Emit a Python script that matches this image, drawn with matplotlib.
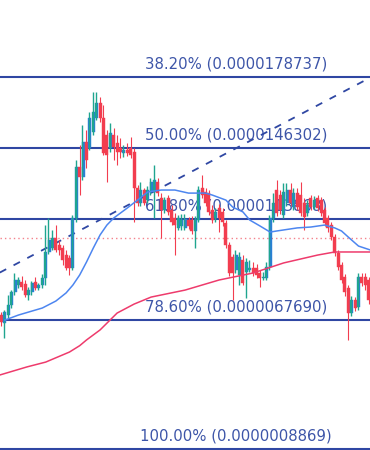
import matplotlib
matplotlib.use("Agg")
import matplotlib.pyplot as plt
import matplotlib.transforms as mtransforms

UNIT = 1e-6  # candle / indicator values below are in millionths

opens = [7.00, 6.64, 7.00, 7.46, 8.05, 8.37, 8.51, 8.42, 7.91, 8.05,
         8.51, 8.23, 8.37, 8.69, 9.88, 10.06, 10.52, 10.20, 10.06, 9.74,
         9.61, 9.15, 11.43, 13.76, 13.31, 14.90, 14.63, 15.36, 16.00, 16.69,
         16.00, 15.22, 14.63, 15.22, 14.86, 14.63, 14.40, 14.54, 14.63, 14.45,
         12.80, 12.12, 12.71, 12.25, 12.62, 12.62, 13.08, 12.35, 11.80, 12.35,
         11.80, 11.43, 10.98, 11.07, 10.98, 11.34, 11.34, 10.84, 11.34, 12.80,
         12.62, 12.57, 11.80, 11.43, 11.89, 11.71, 11.20, 10.20, 9.65, 9.06,
         8.83, 9.51, 8.97, 9.06, 9.15, 9.15, 8.92, 8.69, 8.69, 9.19,
         11.43, 12.71, 12.48, 11.57, 12.12, 12.71, 11.93, 12.57, 12.48, 12.12,
         11.66, 12.35, 11.93, 12.35, 12.25, 11.80, 11.43, 11.11, 10.56, 9.83,
         9.29, 8.74, 8.23, 7.09, 7.69, 7.37, 8.74, 8.74, 8.60]
closes = [6.68, 7.14, 7.46, 8.05, 8.60, 8.60, 8.28, 7.91, 8.14, 8.46,
          8.23, 8.37, 8.69, 9.88, 10.43, 10.52, 9.97, 9.97, 9.51, 9.15,
          9.15, 11.43, 13.76, 13.31, 14.90, 14.08, 16.00, 16.27, 16.69, 16.00,
          14.40, 14.31, 15.32, 14.68, 14.45, 14.45, 14.54, 14.40, 14.31, 12.80,
          12.12, 12.71, 12.12, 12.71, 13.08, 13.17, 12.57, 11.80, 12.25, 11.71,
          11.25, 11.11, 11.43, 11.34, 11.39, 11.07, 10.84, 11.34, 12.71, 12.48,
          12.12, 11.71, 11.34, 11.71, 11.43, 11.25, 10.20, 8.92, 8.92, 9.74,
          9.65, 8.46, 9.42, 9.15, 8.92, 8.83, 8.69, 8.74, 9.19, 11.43,
          12.12, 11.66, 11.80, 12.62, 12.71, 12.12, 12.57, 11.93, 11.66, 11.48,
          12.03, 11.93, 12.25, 11.89, 11.66, 11.20, 10.98, 10.56, 9.83, 9.19,
          8.60, 8.05, 7.09, 7.69, 7.32, 8.74, 8.46, 8.37, 7.69]
highs = [7.14, 7.23, 7.91, 8.14, 8.92, 8.74, 8.78, 8.60, 8.28, 8.55,
         8.74, 8.46, 8.87, 11.11, 11.43, 10.88, 11.11, 10.43, 10.20, 9.97,
         9.74, 11.57, 14.08, 14.77, 15.68, 15.45, 16.27, 17.19, 17.19, 16.96,
         16.59, 15.45, 15.77, 15.54, 15.22, 15.09, 14.77, 14.86, 15.13, 14.63,
         12.94, 13.08, 12.80, 12.89, 13.26, 13.85, 13.26, 12.57, 12.39, 12.48,
         12.03, 11.66, 11.57, 11.62, 11.62, 11.48, 11.52, 11.52, 12.89, 13.40,
         12.80, 12.71, 12.03, 11.89, 12.07, 11.89, 11.34, 10.34, 9.79, 9.97,
         9.88, 9.74, 9.61, 9.51, 9.42, 9.33, 9.06, 8.97, 9.42, 11.57,
         12.57, 13.17, 12.71, 13.03, 13.03, 13.03, 12.80, 12.80, 13.08, 12.35,
         12.25, 12.48, 12.44, 12.48, 12.39, 11.93, 11.57, 11.25, 10.70, 9.97,
         9.42, 8.87, 8.37, 7.87, 7.82, 8.92, 8.92, 8.92, 8.74]
lows = [6.50, 5.95, 6.86, 7.32, 7.91, 8.23, 8.14, 7.82, 7.69, 7.91,
        8.14, 8.14, 8.23, 8.37, 9.79, 9.97, 9.88, 9.74, 9.29, 9.06,
        8.83, 9.06, 11.25, 12.48, 13.17, 13.72, 14.54, 15.22, 15.91, 15.82,
        14.31, 13.08, 14.45, 14.08, 13.85, 14.17, 14.22, 14.26, 14.17, 11.25,
        11.98, 11.98, 12.03, 12.12, 12.48, 11.43, 12.44, 10.52, 11.66, 11.57,
        11.11, 9.74, 10.88, 10.88, 10.88, 10.93, 10.70, 10.06, 11.25, 12.35,
        11.98, 11.57, 11.20, 11.25, 10.79, 11.07, 10.06, 8.78, 7.69, 8.92,
        8.37, 8.37, 7.78, 8.97, 8.78, 8.69, 8.28, 8.60, 8.60, 9.06,
        11.25, 11.52, 11.62, 11.43, 11.98, 11.98, 11.80, 11.80, 11.52, 10.88,
        11.52, 11.80, 11.84, 11.75, 11.52, 11.07, 10.79, 10.43, 9.70, 9.06,
        8.46, 7.87, 5.86, 6.96, 7.18, 7.23, 8.33, 8.14, 7.50]

# moving averages (candle index, value)
fast_ma_idx = [1, 5, 12, 16, 19, 21, 23, 25, 27, 29, 31, 33, 35, 37, 40, 43, 45, 47, 51, 55,
               60, 62, 66, 68, 71, 73, 76, 79, 81, 87, 91, 95, 98, 100, 102, 105, 108.5]
fast_ma = [6.77, 7.00, 7.32, 7.64, 8.01, 8.37, 8.83, 9.42, 10.06, 10.66, 11.11, 11.43, 11.66,
           11.89, 12.25, 12.62, 12.67, 12.71, 12.71, 12.57, 12.57, 12.48, 12.25, 11.93, 11.71,
           11.34, 11.07, 10.79, 10.84, 10.98, 11.02, 11.11, 10.98, 10.84, 10.56, 10.15, 9.97]
slow_ma_idx = [-0.5, 7.5, 13, 20, 23, 25, 29, 34, 39, 44, 54, 64, 74, 83, 93, 98, 108.5]
slow_ma = [4.26, 4.63, 4.85, 5.31, 5.60, 5.86, 6.32, 7.09, 7.50, 7.82, 8.14, 8.60, 8.92, 9.38,
           9.74, 9.88, 9.88]

trend_idx = [-0.5, 108.5]
trend_val = [8.94, 17.85]
last_price = 10.52

fib_pcts = [38.2, 50.0, 61.8, 78.6, 100.0]
fib_prices = [0.0000178737, 0.0000146302, 0.0000113868, 0.0000067690, 0.0000008869]

RED = "#f23d4f"
TEAL = "#1fa58f"
BLUE_BODY = "#2a7fd4"
FIB = "#2f47a3"
FIB_TXT = "#3d55a8"

fig = plt.figure(figsize=(3.7, 4.5), dpi=100)
ax = fig.add_axes([0, 0, 1, 1])
ax.set_axis_off()
ax.set_xlim(-0.44, 108.38)
ax.set_ylim(0.834e-6, 21.391e-6)

# fib levels
trans = mtransforms.blended_transform_factory(ax.transAxes, ax.transData)
for pct, price in zip(fib_pcts, fib_prices):
    ax.axhline(price, color=FIB, lw=1.5, zorder=1)
    ax.annotate(f"{pct:.2f}% ({price:.10f})", xy=(0.637, price), xycoords=trans,
                xytext=(0, 6.3), textcoords="offset points", ha="center", va="baseline",
                fontsize=10.7, color=FIB_TXT, family="DejaVu Sans", zorder=1)

# last price dotted line
ax.axhline(last_price * UNIT, color="#f4818b", lw=1.0, ls=(0, (1, 2.2)), zorder=1.5)

# candles
w = 0.86
for i, (o, c, h, l) in enumerate(zip(opens, closes, highs, lows)):
    lo, hi = min(o, c) * UNIT, max(o, c) * UNIT
    body_h = max(hi - lo, 0.03 * UNIT)
    if c >= o:
        ax.bar(i, body_h, bottom=lo, width=w, color=BLUE_BODY, ec=BLUE_BODY, lw=0.3, zorder=3)
        ax.vlines(i - 0.22, l * UNIT, h * UNIT, color=TEAL, lw=1.0, zorder=3.5)
        ax.bar(i - 0.22, body_h, bottom=lo, width=0.3, color=TEAL, lw=0, zorder=3.5)
    else:
        ax.vlines(i, l * UNIT, h * UNIT, color=RED, lw=0.8, zorder=3)
        ax.bar(i, body_h, bottom=lo, width=w, color=RED, ec=RED, lw=0.3, zorder=3)

# moving averages
ax.plot(fast_ma_idx, [v * UNIT for v in fast_ma], color="#4d86f0", lw=1.1, zorder=4,
        solid_joinstyle="round")
ax.plot(slow_ma_idx, [v * UNIT for v in slow_ma], color="#ee3b6c", lw=1.1, zorder=4,
        solid_joinstyle="round")

# trend line
ax.plot(trend_idx, [v * UNIT for v in trend_val], color="#2f47a3", lw=1.3,
        ls=(0, (4, 4.6)), zorder=2)

fig.savefig("out.png", dpi=100, facecolor="white")
